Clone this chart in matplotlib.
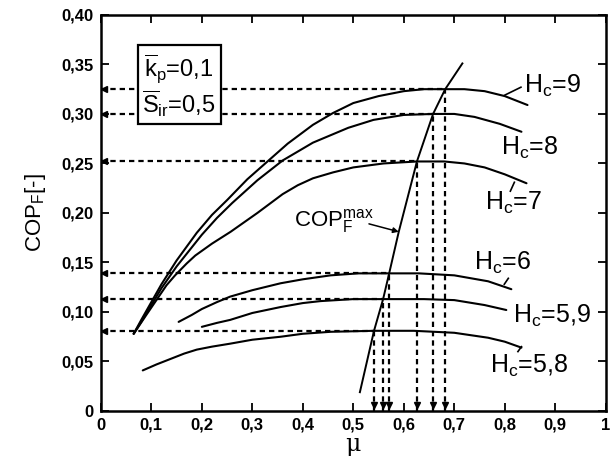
import matplotlib
matplotlib.use("Agg")
import matplotlib.pyplot as plt
import numpy as np

plt.rcParams['font.family'] = ['Liberation Sans', 'DejaVu Sans']
plt.rcParams['mathtext.fontset'] = 'custom'
plt.rcParams['mathtext.rm'] = 'Liberation Sans'
plt.rcParams['mathtext.it'] = 'Liberation Sans:italic'

# curves (mu, COP_F)
mu_9 = [0.065, 0.08, 0.10, 0.12, 0.15, 0.19, 0.22, 0.25, 0.29, 0.33, 0.37, 0.42, 0.46, 0.50,
        0.55, 0.60, 0.64, 0.682, 0.72, 0.76, 0.80, 0.845]
cop_9 = [0.078, 0.092, 0.110, 0.128, 0.152, 0.180, 0.198, 0.213, 0.234, 0.252, 0.270, 0.289,
         0.301, 0.311, 0.318, 0.323, 0.325, 0.325, 0.325, 0.323, 0.318, 0.309]
mu_8 = [0.065, 0.08, 0.10, 0.12, 0.15, 0.20, 0.23, 0.26, 0.31, 0.36, 0.42, 0.49, 0.54, 0.60,
        0.658, 0.70, 0.74, 0.79, 0.833]
cop_8 = [0.078, 0.090, 0.107, 0.124, 0.146, 0.178, 0.195, 0.210, 0.233, 0.253, 0.271, 0.286,
         0.294, 0.299, 0.300, 0.300, 0.297, 0.290, 0.282]
mu_7 = [0.065, 0.09, 0.11, 0.13, 0.147, 0.17, 0.187, 0.22, 0.257, 0.31, 0.36, 0.39, 0.42, 0.46,
        0.50, 0.56, 0.626, 0.68, 0.72, 0.76, 0.80, 0.843]
cop_7 = [0.078, 0.097, 0.112, 0.127, 0.137, 0.149, 0.157, 0.169, 0.181, 0.200, 0.219, 0.228,
         0.235, 0.241, 0.246, 0.250, 0.252, 0.252, 0.250, 0.246, 0.239, 0.230]
mu_6 = [0.154, 0.18, 0.20, 0.23, 0.256, 0.30, 0.356, 0.40, 0.455, 0.51, 0.571, 0.63, 0.70,
        0.767, 0.813]
cop_6 = [0.090, 0.097, 0.103, 0.110, 0.1155, 0.122, 0.129, 0.133, 0.137, 0.139, 0.139, 0.139,
         0.137, 0.131, 0.123]
mu_59 = [0.200, 0.23, 0.256, 0.30, 0.356, 0.40, 0.435, 0.50, 0.559, 0.64, 0.70, 0.76, 0.803]
cop_59 = [0.085, 0.089, 0.092, 0.099, 0.105, 0.109, 0.111, 0.113, 0.113, 0.113, 0.112, 0.107,
          0.102]
mu_58 = [0.083, 0.11, 0.14, 0.165, 0.19, 0.22, 0.256, 0.30, 0.356, 0.40, 0.455, 0.541, 0.62,
         0.70, 0.767, 0.80, 0.833]
cop_58 = [0.041, 0.047, 0.053, 0.058, 0.062, 0.065, 0.068, 0.072, 0.075, 0.078, 0.080, 0.081,
          0.081, 0.079, 0.074, 0.070, 0.064]

# COP_F max line and optimum points
mu_max = [0.513, 0.541, 0.559, 0.571, 0.59, 0.626, 0.658, 0.682, 0.716]
cop_max = [0.019, 0.081, 0.113, 0.139, 0.181, 0.252, 0.300, 0.325, 0.351]
mu_opt = [0.541, 0.559, 0.571, 0.626, 0.658, 0.682]
cop_opt = [0.081, 0.113, 0.139, 0.252, 0.300, 0.325]

x_ticks = [0, 0.1, 0.2, 0.3, 0.4, 0.5, 0.6, 0.7, 0.8, 0.9, 1.0]
x_labels = ['0', '0,1', '0,2', '0,3', '0,4', '0,5', '0,6', '0,7', '0,8', '0,9', '1']
y_ticks = [0, 0.05, 0.10, 0.15, 0.20, 0.25, 0.30, 0.35, 0.40]
y_labels = ['0', '0,05', '0,10', '0,15', '0,20', '0,25', '0,30', '0,35', '0,40']

fig = plt.figure(figsize=(6.15, 4.66), dpi=100)
ax = fig.add_axes([0.164, 0.118, 0.821, 0.850])

lw = 1.5
for m, c in [(mu_9, cop_9), (mu_8, cop_8), (mu_7, cop_7),
             (mu_6, cop_6), (mu_59, cop_59), (mu_58, cop_58)]:
    ax.plot(m, c, color='black', lw=lw, solid_capstyle='round', solid_joinstyle='round')
ax.plot(mu_max, cop_max, color='black', lw=1.4)

dash = (0, (2.4, 1.8))
for m, c in zip(mu_opt, cop_opt):
    ax.plot([0, m], [c, c], color='black', lw=1.6, linestyle=dash)
    ax.plot([m, m], [0, c], color='black', lw=1.6, linestyle=dash)
    ax.plot([0.007], [c], marker='<', ms=4, color='black', clip_on=False)
    ax.plot([m], [0.006], marker='v', ms=4, color='black', clip_on=False)

# curve labels with their short leaders
ax.text(0.839, 0.321, r'H$_\mathrm{c}$=9', fontsize=18, va='baseline')
ax.plot([0.80, 0.832], [0.319, 0.327], color='black', lw=1.2)
ax.text(0.793, 0.2586, r'H$_\mathrm{c}$=8', fontsize=18, va='baseline')
ax.text(0.761, 0.203, r'H$_\mathrm{c}$=7', fontsize=18, va='baseline')
ax.plot([0.811, 0.819], [0.222, 0.231], color='black', lw=1.2)
ax.text(0.740, 0.1424, r'H$_\mathrm{c}$=6', fontsize=18, va='baseline')
ax.plot([0.799, 0.807], [0.128, 0.134], color='black', lw=1.2)
ax.text(0.817, 0.0892, r'H$_\mathrm{c}$=5,9', fontsize=18, va='baseline')
ax.text(0.770, 0.0384, r'H$_\mathrm{c}$=5,8', fontsize=18, va='baseline')
ax.plot([0.826, 0.833], [0.060, 0.065], color='black', lw=1.2)

ax.text(0.382, 0.192, r'COP$_\mathrm{F}^\mathrm{max}$', fontsize=16, va='center')
ax.annotate('', xy=(0.590, 0.181), xytext=(0.531, 0.189),
            arrowprops=dict(arrowstyle='-|>', color='black', lw=1.1,
                            mutation_scale=8, shrinkA=0, shrinkB=0))

ax.text(0.155, 0.328, '$\\overline{\\mathrm{k}}_\\mathrm{p}$=0,1\n$\\overline{\\mathrm{S}}_\\mathrm{ir}$=0,5',
        fontsize=17, ha='center', va='center', linespacing=1.1, zorder=5,
        bbox=dict(boxstyle='square,pad=0.2', facecolor='white', edgecolor='black', lw=1.6))

ax.set_xlim(0, 1)
ax.set_ylim(0, 0.4)
ax.set_xticks(x_ticks)
ax.set_xticklabels(x_labels, fontweight='bold', fontsize=12)
ax.set_yticks(y_ticks)
ax.set_yticklabels(y_labels, fontweight='bold', fontsize=12)
ax.tick_params(direction='in', length=6, width=1.3, top=True, right=True, pad=5)
for s in ax.spines.values():
    s.set_linewidth(1.8)

ax.set_xlabel('μ', fontsize=17, family='DejaVu Serif', labelpad=0)
ax.set_ylabel(r'COP$_\mathrm{F}$[-]', fontsize=16, labelpad=10)

fig.savefig('out.png', dpi=100)
